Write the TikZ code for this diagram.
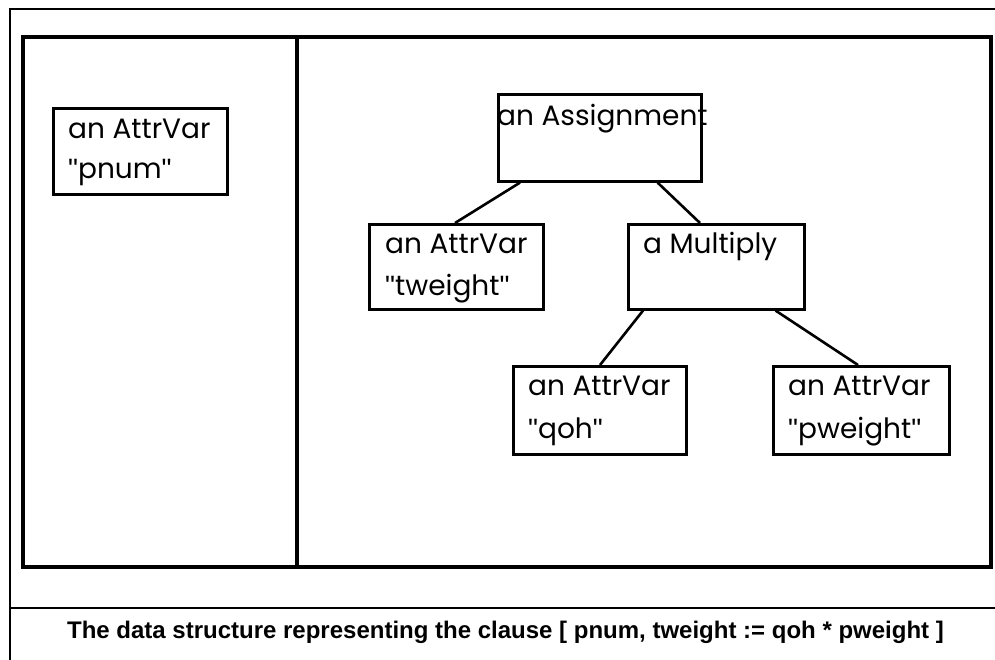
\documentclass[tikz,border=0pt]{standalone}
\usepackage{fontspec}
\setmainfont{Poppins}
\newfontfamily\capfont{Liberation Sans}
\newfontfamily\quotefont{Liberation Sans}
\newcommand{\qq}[1]{{\quotefont\symbol{34}}#1{\quotefont\symbol{34}}}
\begin{document}
\begin{tikzpicture}[x=1pt,y=-1pt,
  objbox/.style={draw=black,line width=2.6pt,rectangle,inner sep=0pt,anchor=north west},
  objtext/.style={anchor=base west,inner sep=0pt,font=\fontsize{28}{32}\selectfont},
  link/.style={draw=black,line width=2.6pt},
  frame/.style={draw=black,line width=2pt},
  heavy/.style={draw=black,line width=4pt}]
\useasboundingbox (0,0) rectangle (995,659);
\fill[white] (0,0) rectangle (995,659);

% outer frame and caption separator
\draw[frame] (996,9) -- (10,9) -- (10,660);
\draw[frame] (10,608) -- (996,608);

% two panels
\draw[heavy] (23,37) rectangle (991,567);
\draw[heavy] (297,37) -- (297,567);

% object boxes
\node[objbox,minimum width=174pt,minimum height=86pt] (pnum) at (52,107) {};
\node[objbox,minimum width=203pt,minimum height=87pt] (asg) at (497,93) {};
\node[objbox,minimum width=174pt,minimum height=85pt] (tw) at (368,223) {};
\node[objbox,minimum width=176pt,minimum height=85pt] (mul) at (627,223) {};
\node[objbox,minimum width=173pt,minimum height=88pt] (qoh) at (512,365) {};
\node[objbox,minimum width=176pt,minimum height=88pt] (pw) at (772,365) {};

% box texts: class line, then the variable name
\node[objtext] (pnum1) at ([xshift=16pt,yshift=-31pt]pnum.north west) {an AttrVar};
\node[objtext] (pnum2) at ([yshift=-40pt]pnum1.base west) {\qq{pnum}};
\node[objtext] (asg1) at ([xshift=0pt,yshift=-32pt]asg.north west) {an Assignment};
\node[objtext] (tw1) at ([xshift=17pt,yshift=-30pt]tw.north west) {an AttrVar};
\node[objtext] (tw2) at ([yshift=-42pt]tw1.base west) {\qq{tweight}};
\node[objtext] (mul1) at ([xshift=16pt,yshift=-30pt]mul.north west) {a Multiply};
\node[objtext] (qoh1) at ([xshift=16pt,yshift=-30pt]qoh.north west) {an AttrVar};
\node[objtext] (qoh2) at ([yshift=-43pt]qoh1.base west) {\qq{qoh}};
\node[objtext] (pw1) at ([xshift=16pt,yshift=-30pt]pw.north west) {an AttrVar};
\node[objtext] (pw2) at ([yshift=-43pt]pw1.base west) {\qq{pweight}};

% tree links
\draw[link] ([xshift=23pt]asg.south west) -- ([xshift=87pt]tw.north west);
\draw[link] ([xshift=-45pt]asg.south east) -- ([xshift=73pt]mul.north west);
\draw[link] ([xshift=16pt]mul.south west) -- ([xshift=88pt]qoh.north west);
\draw[link] ([xshift=-30pt]mul.south east) -- ([xshift=86pt]pw.north west);

% caption
\node[anchor=base,inner sep=0pt,font=\capfont\bfseries\fontsize{24}{28}\selectfont] (cap) at (505.5,638)
  {The data structure representing the clause [ pnum, tweight := qoh * pweight ]};
\end{tikzpicture}
\end{document}
